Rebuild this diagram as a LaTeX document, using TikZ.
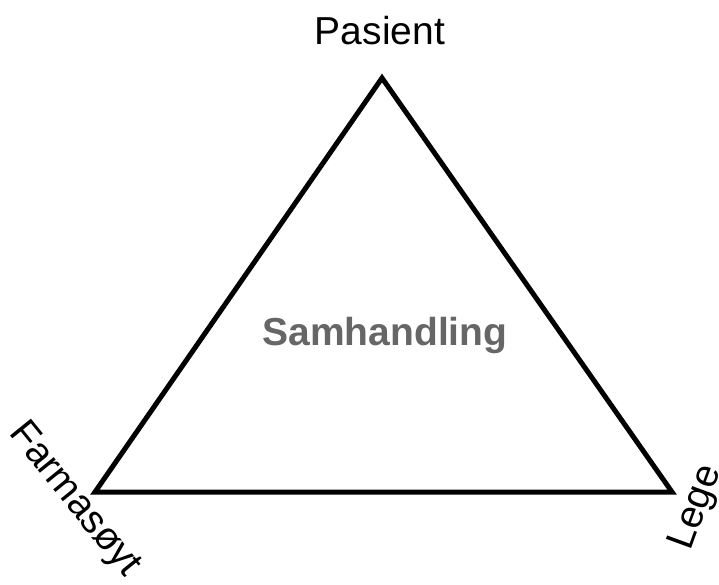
\documentclass[tikz,border=0pt]{standalone}
\usepackage{fontspec}
\setmainfont{Liberation Sans}
\usetikzlibrary{positioning}

\tikzset{
  corner/.style={font=\fontsize{39}{40}\selectfont},
  center label/.style={font=\fontsize{39}{40}\selectfont\bfseries, text=black!60}
}

\begin{document}
\begin{tikzpicture}[x=1pt, y=-1pt]
  \useasboundingbox (0,0) rectangle (719,585);

  \coordinate (top) at (382,78);
  \coordinate (left) at (95,492);
  \coordinate (right) at (672,492);

  \draw[line width=5pt] (top) -- (left) -- (right) -- cycle;

  \node[corner, anchor=base] (pasient) at (380,45) {Pasient};
  \node[corner, rotate=-51] (farmasoyt) at (74,500) {Farmasøyt};
  \node[corner, rotate=70] (lege) at (697,508) {Lege};
  \node[center label, anchor=base] (samhandling) at (385,345) {Samhandling};
\end{tikzpicture}
\end{document}
